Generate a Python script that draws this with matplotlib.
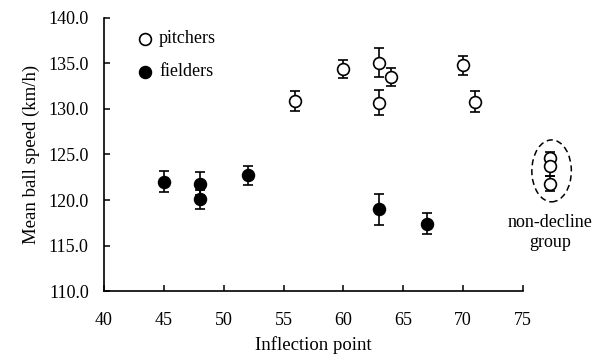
import matplotlib
matplotlib.use("Agg")
import matplotlib.pyplot as plt
from matplotlib.patches import Ellipse

plt.rcParams["font.family"] = ["Liberation Serif", "DejaVu Serif"]

# pitchers (open circles)
pitch_x = [56, 60, 63, 63, 64, 70, 71]
pitch_y = [130.9, 134.4, 135.1, 130.7, 133.55, 134.8, 130.8]
pitch_err = [1.1, 1.0, 1.6, 1.4, 1.0, 1.05, 1.15]

# fielders (filled circles)
field_x = [45, 48, 48, 52, 63, 67]
field_y = [122.0, 121.8, 120.1, 122.7, 119.0, 117.4]
field_err = [1.15, 1.3, 1.05, 1.0, 1.7, 1.15]

# non-decline group, drawn right of the axis
nd_x = [77.3, 77.3, 77.3]
nd_y = [124.6, 123.7, 121.8]
nd_err = [0.7, 1.1, 0.8]

x_ticks = [40, 45, 50, 55, 60, 65, 70, 75]
y_ticks = [110, 115, 120, 125, 130, 135, 140]

fig = plt.figure(figsize=(6.01, 3.58), dpi=100)
ax = fig.add_axes([0.173, 0.187, 0.697, 0.763])

style = dict(fmt="o", ms=8.5, capsize=3.6, elinewidth=1.2, capthick=1.2,
             ecolor="black", mec="black", mew=1.2, clip_on=False)
ax.errorbar(field_x, field_y, yerr=field_err, mfc="black", **style)
ax.errorbar(pitch_x, pitch_y, yerr=pitch_err, mfc="white", **style)
ax.errorbar(nd_x, nd_y, yerr=nd_err, mfc="white", **style)

ax.add_patch(Ellipse((77.4, 123.2), 3.3, 6.8, fill=False, ls=(0, (4, 2.5)),
                     lw=1.1, ec="black", clip_on=False))
ax.text(77.3, 116.4, "non-decline\ngroup", ha="center", va="center",
        fontsize=13, linespacing=1.2)

# legend drawn as marker + text
ax.plot([43.4], [137.7], "o", ms=8.5, mfc="white", mec="black", mew=1.2)
ax.plot([43.4], [134.1], "o", ms=8.5, mfc="black", mec="black", mew=1.2)
ax.text(44.6, 137.7, "pitchers", va="center", fontsize=13)
ax.text(44.6, 134.1, "fielders", va="center", fontsize=13)

ax.set_xlim(40, 75)
ax.set_ylim(110, 140)
ax.set_xticks(x_ticks)
ax.set_yticks(y_ticks)
ax.set_yticklabels([f"{v:.1f}" for v in y_ticks])
ax.spines["top"].set_visible(False)
ax.spines["right"].set_visible(False)
for s in ["left", "bottom"]:
    ax.spines[s].set_linewidth(1.2)
ax.tick_params(axis="both", direction="in", length=4, width=1.1, labelsize=13)
ax.tick_params(axis="x", pad=15)
ax.tick_params(axis="y", pad=11)

ax.set_xlabel("Inflection point", fontsize=13.5, labelpad=5)
ax.set_ylabel("Mean ball speed (km/h)", fontsize=13.5, labelpad=6)

fig.savefig("out.png", dpi=100)
